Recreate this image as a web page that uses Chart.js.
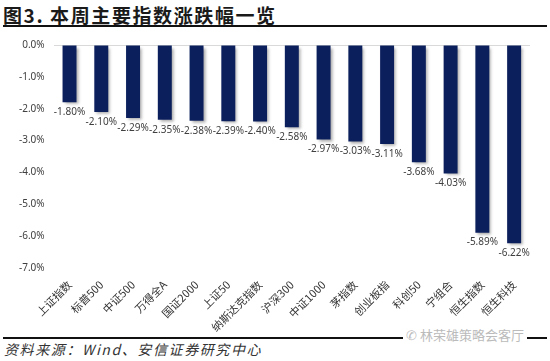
<!DOCTYPE html>
<html>
<head>
<meta charset="utf-8">
<script src="https://cdn.jsdelivr.net/npm/chart.js@4/dist/chart.umd.min.js"></script>
<style>
  html, body { margin: 0; padding: 0; background: #fff; }
  #wrap { position: relative; width: 550px; height: 361px; overflow: hidden; font-family: "Noto Sans CJK SC", sans-serif; }
  #title { position: absolute; left: 3px; top: 1px; font-size: 19px; font-weight: bold; color: #1a1a1a; letter-spacing: 1.6px; }
  .rule { position: absolute; left: 3px; width: 544px; height: 2px; background: #111; }
  #box { position: absolute; left: 0; top: 30px; width: 550px; height: 306px; }
  #source { position: absolute; left: 4px; top: 339px; font-size: 14px; font-style: italic; color: #333; letter-spacing: 1.6px; }
  #mark { position: absolute; left: 403px; top: 325px; font-size: 13px; color: #bbb; background: #fff; padding: 0 3px; }
</style>
</head>
<body>
<div id="wrap">
  <div id="title">图3. 本周主要指数涨跌幅一览</div>
  <div class="rule" style="top:25px"></div>
  <div id="box"><canvas id="c"></canvas></div>
  <div class="rule" style="top:337px"></div>
  <div id="mark">✆ 林荣雄策略会客厅</div>
  <div id="source">资料来源：Wind、安信证券研究中心</div>
</div>
<script>
const indexNames = ["上证指数", "标普500", "中证500", "万得全A", "国证2000", "上证50", "纳斯达克指数", "沪深300",
  "中证1000", "茅指数", "创业板指", "科创50", "宁组合", "恒生指数", "恒生科技"];
const weeklyChange = [-1.80, -2.10, -2.29, -2.35, -2.38, -2.39, -2.40, -2.58, -2.97, -3.03, -3.11, -3.68, -4.03, -5.89, -6.22];
const yMin = -7;
const yMax = 0;

// bar shadow like the office chart
const shadowPlugin = {
  id: "barShadow",
  beforeDatasetsDraw(chart) {
    const ctx = chart.ctx;
    ctx.save();
    ctx.shadowColor = "rgba(0,0,0,0.35)";
    ctx.shadowBlur = 3;
    ctx.shadowOffsetX = 2;
    ctx.shadowOffsetY = 2;
  },
  afterDatasetsDraw(chart) {
    chart.ctx.restore();
  }
};

// value labels under each bar
const valueLabels = {
  id: "valueLabels",
  afterDatasetsDraw(chart) {
    const ctx = chart.ctx;
    const meta = chart.getDatasetMeta(0);
    ctx.save();
    ctx.font = "10px 'Noto Sans', 'Open Sans', sans-serif";
    ctx.fillStyle = "#404040";
    ctx.textAlign = "center";
    ctx.textBaseline = "top";
    meta.data.forEach((bar, i) => {
      ctx.fillText(weeklyChange[i].toFixed(2) + "%", bar.x, bar.y + 5);
    });
    ctx.restore();
  }
};

new Chart(document.getElementById("c"), {
  type: "bar",
  data: {
    labels: indexNames,
    datasets: [
      {
        data: weeklyChange,
        backgroundColor: "#0B1F5C",
        categoryPercentage: 1,
        barPercentage: 0.44,
      },
    ],
  },
  options: {
    responsive: true,
    maintainAspectRatio: false,
    animation: false,
    layout: { padding: { top: 12, right: 20, left: 10, bottom: 0 } },
    plugins: { legend: { display: false }, tooltip: { enabled: false } },
    scales: {
      x: {
        grid: { display: false },
        border: { display: false },
        ticks: {
          minRotation: 45,
          maxRotation: 45,
          color: "#333",
          font: { size: 11, family: "'Noto Sans CJK SC', sans-serif" },
          padding: 2,
        },
      },
      y: {
        min: yMin,
        max: yMax,
        border: { display: false },
        grid: {
          drawTicks: false,
          color: (c) => (c.tick && c.tick.value === 0 ? "#d9d9d9" : "rgba(0,0,0,0)"),
        },
        ticks: {
          stepSize: 1,
          padding: 9,
          color: "#404040",
          font: { size: 10, family: "'Noto Sans', 'Open Sans', sans-serif" },
          callback: (v) => v.toFixed(1) + "%",
        },
      },
    },
  },
  plugins: [shadowPlugin, valueLabels],
});
</script>
</body>
</html>
